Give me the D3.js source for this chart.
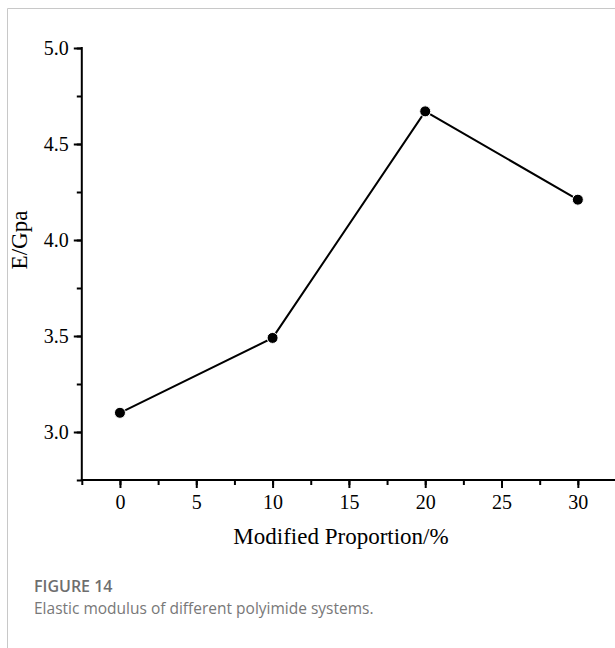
<!DOCTYPE html>
<html>
<head>
<meta charset="utf-8">
<script src="https://cdn.jsdelivr.net/npm/d3@7"></script>
<style>
  body { margin: 0; background: #fff; }
  svg { display: block; }
</style>
</head>
<body>
<div id="chart"></div>
<script>
// data
var proportions = [0, 10, 20, 30];
var modulus = [3.10, 3.49, 4.67, 4.21];
var xTicks = [0, 5, 10, 15, 20, 25, 30];
var yTicks = [3.0, 3.5, 4.0, 4.5, 5.0];

var W = 615, H = 648;
var svg = d3.select("#chart").append("svg")
    .attr("width", W)
    .attr("height", H);

// panel frame (top + left light border)
svg.append("path")
    .attr("d", "M7.5,648 L7.5,8.5 L615,8.5")
    .attr("fill", "none")
    .attr("stroke", "#c8c8c8")
    .attr("stroke-width", 1);

var x = d3.scaleLinear().domain([-2.5, 32.5]).range([81.8, 616]);
var y = d3.scaleLinear().domain([2.75, 5.0]).range([480, 48]);

var serif = "'Liberation Serif', 'Times New Roman', serif";

// x axis
var gx = svg.append("g").attr("transform", "translate(0," + y(2.75) + ")");
gx.call(d3.axisBottom(x).tickValues(d3.range(-2.5, 32.6, 2.5)).tickSize(5).tickFormat(""));
gx.call(function (g) {
  g.selectAll(".tick line").attr("stroke-width", 2);
  g.select(".domain").remove();
});
var gxMaj = svg.append("g").attr("transform", "translate(0," + y(2.75) + ")");
gxMaj.call(d3.axisBottom(x).tickValues(xTicks).tickSize(8).tickPadding(7).tickFormat(d3.format("d")));
gxMaj.select(".domain").remove();
gxMaj.selectAll(".tick line").attr("stroke-width", 2);
gxMaj.selectAll("text")
    .style("font-family", serif)
    .style("font-size", "20px")
    .attr("fill", "#000");
svg.append("line")
    .attr("x1", x(-2.5) - 1).attr("x2", W)
    .attr("y1", y(2.75)).attr("y2", y(2.75))
    .attr("stroke", "#000").attr("stroke-width", 2);

// y axis
var gy = svg.append("g").attr("transform", "translate(" + x(-2.5) + ",0)");
gy.call(d3.axisLeft(y).tickValues(d3.range(2.75, 5.01, 0.25)).tickSize(5).tickFormat(""));
gy.select(".domain").remove();
gy.selectAll(".tick line").attr("stroke-width", 2);
var gyMaj = svg.append("g").attr("transform", "translate(" + x(-2.5) + ",0)");
gyMaj.call(d3.axisLeft(y).tickValues(yTicks).tickSize(8).tickPadding(5).tickFormat(d3.format(".1f")));
gyMaj.select(".domain").remove();
gyMaj.selectAll(".tick line").attr("stroke-width", 2);
gyMaj.selectAll("text")
    .style("font-family", serif)
    .style("font-size", "20px")
    .attr("fill", "#000");
svg.append("line")
    .attr("x1", x(-2.5)).attr("x2", x(-2.5))
    .attr("y1", y(5.0) - 1).attr("y2", y(2.75) + 1)
    .attr("stroke", "#000").attr("stroke-width", 2);

// axis titles
svg.append("text")
    .attr("x", 341)
    .attr("y", 544)
    .attr("text-anchor", "middle")
    .style("font-family", serif)
    .style("font-size", "23px")
    .text("Modified Proportion/%");

svg.append("text")
    .attr("transform", "translate(27," + 240 + ") rotate(-90)")
    .attr("text-anchor", "middle")
    .style("font-family", serif)
    .style("font-size", "23px")
    .text("E/Gpa");

// line + markers
var pts = proportions.map(function (p, i) { return { x: p, v: modulus[i] }; });
var line = d3.line()
    .x(function (d) { return x(d.x); })
    .y(function (d) { return y(d.v); });

svg.append("path")
    .datum(pts)
    .attr("d", line)
    .attr("fill", "none")
    .attr("stroke", "#000")
    .attr("stroke-width", 2);

svg.selectAll("circle.pt")
    .data(pts)
    .enter()
    .append("circle")
    .attr("class", "pt")
    .attr("cx", function (d) { return x(d.x); })
    .attr("cy", function (d) { return y(d.v); })
    .attr("r", 5.5)
    .attr("fill", "#000")
    .attr("stroke", "#fff")
    .attr("stroke-width", 1);

// caption
var sans = "'Open Sans', 'Noto Sans', sans-serif";
svg.append("text")
    .attr("x", 34)
    .attr("y", 592)
    .style("font-family", sans)
    .style("font-size", "16px")
    .style("font-weight", "600")
    .attr("fill", "#6e6e6e")
    .text("FIGURE 14");
svg.append("text")
    .attr("x", 34)
    .attr("y", 614)
    .style("font-family", sans)
    .style("font-size", "15.5px")
    .attr("fill", "#787878")
    .text("Elastic modulus of different polyimide systems.");
</script>
</body>
</html>
